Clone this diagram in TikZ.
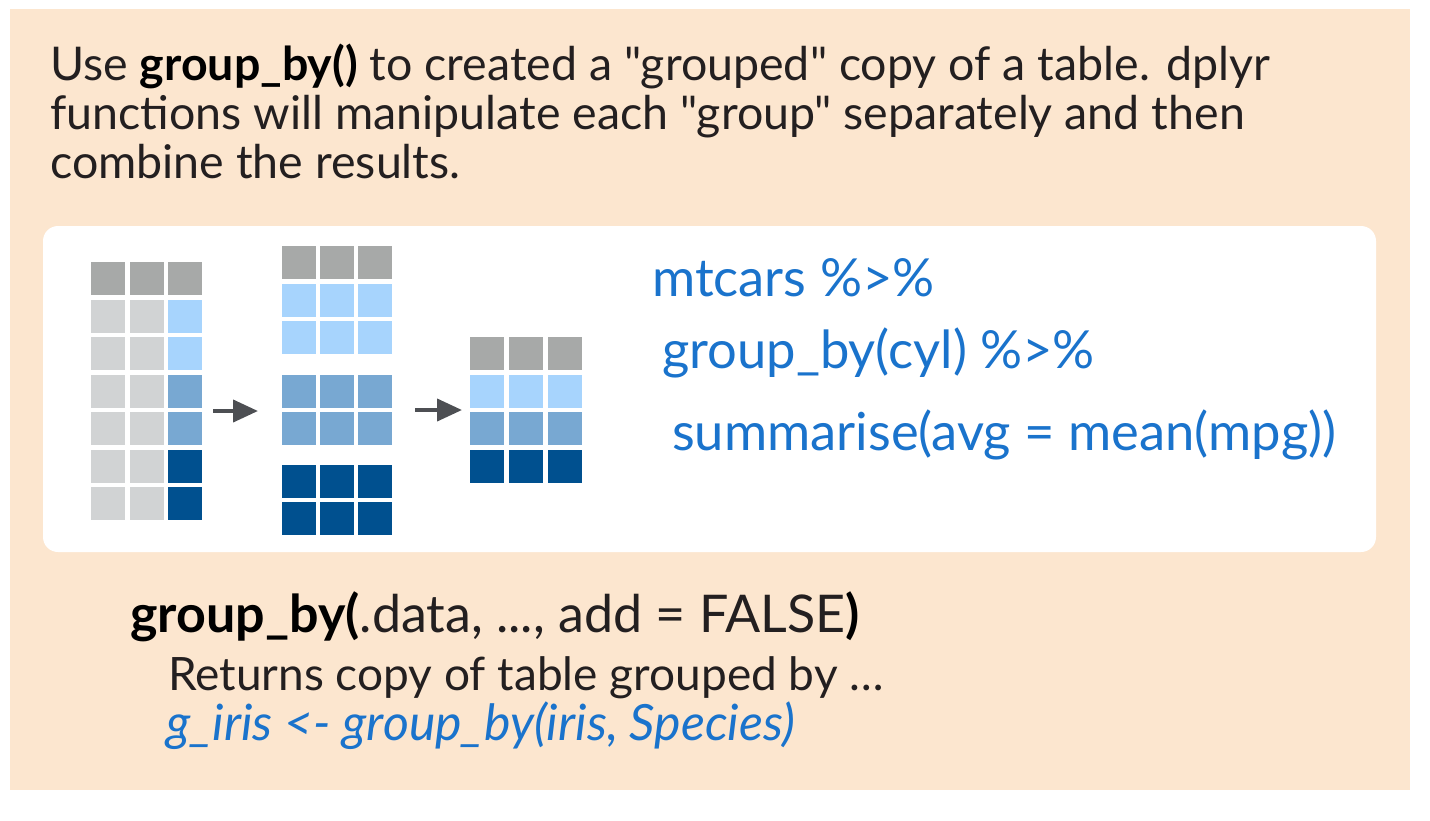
\documentclass[tikz,border=0pt]{standalone}
\usepackage{fontspec}
\setmainfont{Lato}[Ligatures=TeXOff]
\usetikzlibrary{arrows.meta}

\definecolor{peach}{RGB}{252,230,207}
\definecolor{hdr}{RGB}{167,169,168}
\definecolor{lgray}{RGB}{209,211,212}
\definecolor{lblue}{RGB}{167,212,253}
\definecolor{mblue}{RGB}{120,168,210}
\definecolor{dblue}{RGB}{0,80,143}
\definecolor{codeblue}{RGB}{26,115,204}
\definecolor{txt}{RGB}{35,31,32}
\definecolor{arrgray}{RGB}{77,79,83}

\tikzset{
  cell/.style={minimum width=34pt, minimum height=33pt, inner sep=0pt},
  line/.style={anchor=base west, inner sep=0pt, text=txt},
  code/.style={anchor=base west, inner sep=0pt, text=codeblue, font=\fontsize{52.5}{60}\selectfont},
  arr/.style={arrgray, line width=4pt, -{Triangle[width=22pt,length=25pt]}}
}

\begin{document}
\begin{tikzpicture}[x=1pt,y=-1pt]
  \useasboundingbox (0,0) rectangle (1430,820);
  \fill[peach] (10,9) rectangle (1410,790);
  \fill[white, rounded corners=15pt] (43,226) rectangle (1376,552);

  \node[line, font=\fontsize{46.5}{49}\selectfont] (intro1) at (50,80)
    {Use \textbf{\color{black}group\_by()} to created a "grouped" copy of a table. dplyr};
  \node[line, font=\fontsize{46.5}{49}\selectfont] (intro2) at (50,129)
    {functions will manipulate each "group" separately and then};
  \node[line, font=\fontsize{46.5}{49}\selectfont] (intro3) at (50,178)
    {combine the results.};

  % ungrouped table
  \foreach \c/\x in {1/108,2/146.5,3/185}
    \node[cell, fill=hdr] (g1-1-\c) at (\x,278.8) {};
  \foreach \r/\col in {2/lblue,3/lblue,4/mblue,5/mblue,6/dblue,7/dblue} {
    \node[cell, fill=lgray] (g1-\r-1) at (108,{278.8+37.5*(\r-1)}) {};
    \node[cell, fill=lgray] (g1-\r-2) at (146.5,{278.8+37.5*(\r-1)}) {};
    \node[cell, fill=\col] (g1-\r-3) at (185,{278.8+37.5*(\r-1)}) {};
  }

  % grouped table
  \foreach \y/\col [count=\r] in {262.7/hdr,300.7/lblue,337.8/lblue,391.2/mblue,428.8/mblue,481.2/dblue,518.7/dblue}
    \foreach \x [count=\c] in {299.4,337.4,375}
      \node[cell, fill=\col] (g2-\r-\c) at (\x,\y) {};

  % summary table
  \foreach \y/\col [count=\r] in {353.7/hdr,391.2/lblue,428.3/mblue,466.4/dblue}
    \foreach \x [count=\c] in {486.7,525.5,564.5}
      \node[cell, fill=\col] (g3-\r-\c) at (\x,\y) {};

  \coordinate (a1) at (213,411);
  \coordinate (b1) at (258,411);
  \coordinate (a2) at (415,410);
  \coordinate (b2) at (462,410);
  \draw[arr] (a1) -- (b1);
  \draw[arr] (a2) -- (b2);

  \node[code] (pipe1) at (652,296) {mtcars \%>\%};
  \node[code] (pipe2) at (662,368) {group\_by(cyl) \%>\%};
  \node[code] (pipe3) at (672,450) {summarise(avg = mean(mpg))};

  \node[line, font=\fontsize{52}{60}\selectfont] (sig) at (130,632)
    {{\bfseries\color{black}group\_by(}.data, ..., add = FALSE{\bfseries\color{black})}};
  \node[line, font=\fontsize{46}{52}\selectfont] (desc) at (168,690)
    {Returns copy of table grouped by …};
  \node[line, text=codeblue, font=\fontsize{50}{54}\selectfont\itshape] (ex) at (166,740)
    {g\_iris <- group\_by(iris, Species)};
\end{tikzpicture}
\end{document}
